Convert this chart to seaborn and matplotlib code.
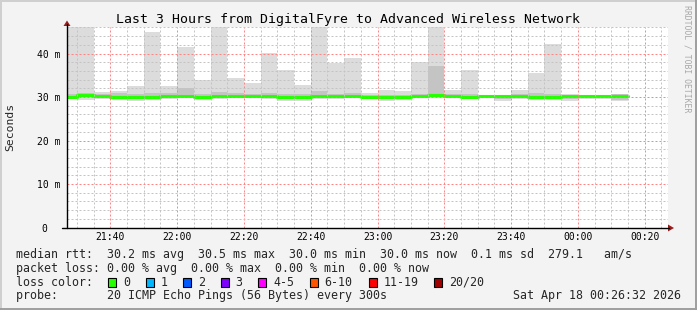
import matplotlib
matplotlib.use("Agg")
import matplotlib.pyplot as plt
import seaborn as sns
import pandas as pd
from matplotlib.ticker import MultipleLocator, FixedLocator
from matplotlib.patches import Rectangle, Polygon
from matplotlib.lines import Line2D

# ---------------- data ----------------
slot_start = ["21:25", "21:30", "21:35", "21:40", "21:45", "21:50", "21:55",
              "22:00", "22:05", "22:10", "22:15", "22:20", "22:25", "22:30",
              "22:35", "22:40", "22:45", "22:50", "22:55", "23:00", "23:05",
              "23:10", "23:15", "23:20", "23:25", "23:30", "23:35", "23:40",
              "23:45", "23:50", "23:55", "00:00", "00:05", "00:10"]
rtt_max = [48.0, 48.0, 31.2, 31.4, 32.5, 45.0, 32.5, 41.5, 33.9, 48.0,
           34.4, 33.2, 40.2, 36.2, 32.7, 48.0, 37.9, 38.9, 30.9, 31.6,
           31.3, 38.1, 48.0, 31.6, 36.1, 30.5, 30.4, 31.6, 35.6, 42.1,
           30.8, 30.5, 30.5, 30.8]
rtt_hi2 = [30.8, 31.0, 30.6, 31.0, 30.7, 31.0, 30.9, 32.0, 30.7, 31.2,
           30.9, 30.8, 30.9, 30.7, 30.6, 31.3, 30.8, 30.9, 30.4, 30.5,
           30.5, 30.8, 37.1, 30.7, 30.6, 30.4, 30.3, 30.8, 30.9, 30.8,
           30.5, 30.4, 30.5, 30.6]
rtt_median = [30.1, 30.5, 30.2, 30.0, 30.1, 30.1, 30.2, 30.3, 30.0, 30.2,
              30.2, 30.2, 30.2, 30.1, 30.1, 30.3, 30.2, 30.2, 30.1, 30.0,
              30.1, 30.2, 30.5, 30.2, 30.1, 30.2, 30.2, 30.2, 30.1, 30.0,
              30.2, 30.2, 30.3, 30.2]
rtt_lo2 = [29.8, 29.9, 29.9, 29.6, 29.5, 29.7, 29.8, 30.0, 29.6, 29.8,
           29.9, 29.9, 29.8, 29.6, 29.6, 29.8, 29.9, 29.9, 29.8, 29.5,
           29.7, 29.9, 29.9, 29.9, 29.8, 29.9, 29.6, 29.8, 29.6, 29.6,
           29.5, 29.8, 29.8, 29.4]
rtt_min = [29.65, 29.4, 29.65, 29.4, 29.05, 29.4, 29.65, 29.9, 29.4, 29.65,
           29.8, 29.8, 29.6, 29.0, 29.1, 29.6, 29.65, 29.75, 29.5, 29.05,
           29.4, 29.75, 29.8, 29.8, 29.65, 29.8, 29.1, 29.65, 29.3, 29.4,
           29.1, 29.65, 29.5, 29.1]
slot_minutes = 5
x_tick_labels = ["21:40", "22:00", "22:20", "22:40", "23:00",
                 "23:20", "23:40", "00:00", "00:20"]
y_ticks = [0, 10, 20, 30, 40]
y_tick_labels = ["0  ", "10 m", "20 m", "30 m", "40 m"]
loss_labels = ["0", "1", "2", "3", "4-5", "6-10", "11-19", "20/20"]
loss_colors = ["#26ff00", "#00b8ff", "#0059ff", "#7e00ff", "#ff00ff",
               "#ff5500", "#ff0000", "#a10000"]
title = "Last 3 Hours from DigitalFyre to Advanced Wireless Network"
line_rtt = "median rtt:  30.2 ms avg  30.5 ms max  30.0 ms min  30.0 ms now  0.1 ms sd  279.1   am/s"
line_loss = "packet loss: 0.00 % avg  0.00 % max  0.00 % min  0.00 % now"
line_probe = "probe:       20 ICMP Echo Pings (56 Bytes) every 300s"
stamp = "Sat Apr 18 00:26:32 2026"


def to_min(s):
    h, m = map(int, s.split(":"))
    if h < 12:
        h += 24
    return (h - 21) * 60 + m


starts = [to_min(s) for s in slot_start]
tick_pos = [to_min(s) for s in x_tick_labels]

# ---------------- figure ----------------
sns.set_theme(style="white")
MONO = ["DejaVu Sans Mono"]
plt.rcParams["font.family"] = MONO

W, H = 697, 310
fig = plt.figure(figsize=(W / 100, H / 100), dpi=100, facecolor="#f3f3f3")


def fx(x):
    return x / W


def fy(y):
    return 1 - y / H


ax_l, ax_r, ax_t, ax_b = 67, 668, 27, 227.5
ax = fig.add_axes([fx(ax_l), fy(ax_b), (ax_r - ax_l) / W, (ax_b - ax_t) / H])
ax.set_facecolor("white")

# smoke bands
ax.bar(starts, [a - b for a, b in zip(rtt_max, rtt_min)], bottom=rtt_min,
       width=slot_minutes, align="edge", color="#dcdcdc", linewidth=0, zorder=1)
ax.bar(starts, [a - b for a, b in zip(rtt_hi2, rtt_lo2)], bottom=rtt_lo2,
       width=slot_minutes, align="edge", color="#c4c4c4", linewidth=0, zorder=1.1)

# median line (steps)
df = pd.DataFrame({"t": starts + [starts[-1] + slot_minutes],
                   "rtt": rtt_median + [rtt_median[-1]]})
sns.lineplot(data=df, x="t", y="rtt", drawstyle="steps-post", color="#26ff00",
             linewidth=2.2, ax=ax, zorder=2, legend=False)

ax.set_xlim(27, 207)
ax.set_ylim(0, 46.1)
ax.set_xlabel("")
ax.set_ylabel("")

ax.xaxis.set_major_locator(FixedLocator(tick_pos))
ax.xaxis.set_minor_locator(MultipleLocator(5))
ax.yaxis.set_major_locator(FixedLocator(y_ticks))
ax.yaxis.set_minor_locator(MultipleLocator(2))
ax.set_xticklabels(x_tick_labels)
ax.set_yticklabels(y_tick_labels)
ax.tick_params(axis="both", which="both", length=0, labelsize=7, colors="black")
ax.tick_params(axis="x", pad=3)
ax.tick_params(axis="y", pad=5)
for lab in ax.get_xticklabels() + ax.get_yticklabels():
    lab.set_family(MONO)

ax.set_axisbelow(False)
ax.grid(which="minor", color="#c4c4c4", linestyle=(0, (2, 2)), linewidth=0.72)
ax.grid(which="major", color="#ff8484", linestyle=(0, (2, 2)), linewidth=0.72)
for axis in (ax.xaxis, ax.yaxis):
    for t in axis.get_major_ticks() + axis.get_minor_ticks():
        t.gridline.set_snap(True)
        t.gridline.set_dash_capstyle("butt")

for s in ax.spines.values():
    s.set_visible(False)

# axes lines and arrows
fig.add_artist(Line2D([fx(ax_l), fx(ax_l)], [fy(228), fy(24)], color="black", lw=1.0))
fig.add_artist(Line2D([fx(62), fx(669)], [fy(228), fy(228)], color="black", lw=1.0))
fig.add_artist(Polygon([(fx(63.5), fy(26)), (fx(70.5), fy(26)), (fx(67), fy(20.5))],
                       closed=True, color="#9c1c1c", lw=0))
fig.add_artist(Polygon([(fx(668), fy(224.5)), (fx(668), fy(231.5)), (fx(674), fy(228))],
                       closed=True, color="#9c1c1c", lw=0))

# texts
fig.text(fx(347.5), fy(19), title, ha="center", va="center", fontsize=9.5,
         family=MONO, color="black")
fig.text(fx(10), fy(127), "Seconds", rotation=90, ha="center", va="center",
         fontsize=8.2, family=MONO)
fig.text(fx(687), fy(59), "RRDTOOL / TOBI OETIKER", rotation=270, ha="center",
         va="center", fontsize=5.9, family=MONO, color="#a8a8a8")

FS = 8.4
CW = 7.02
fig.text(fx(16), fy(254.5), line_rtt, ha="left", va="center", fontsize=FS, family=MONO)
fig.text(fx(16), fy(268.3), line_loss, ha="left", va="center", fontsize=FS, family=MONO)
fig.text(fx(16), fy(282.3), "loss color:", ha="left", va="center", fontsize=FS, family=MONO)
fig.text(fx(16), fy(296), line_probe, ha="left", va="center", fontsize=FS, family=MONO)
fig.text(fx(681), fy(296), stamp, ha="right", va="center", fontsize=FS, family=MONO)

xs = 108.4
for lab, col in zip(loss_labels, loss_colors):
    fig.add_artist(Rectangle((fx(xs), fy(286.5)), 8 / W, 8.5 / H, facecolor=col,
                             edgecolor="black", lw=0.8))
    fig.text(fx(xs + 14.7), fy(282.3), lab, ha="left", va="center", fontsize=FS, family=MONO)
    xs = xs + 14.7 + len(lab) * CW + 15.8

# frame
fig.add_artist(Line2D([0, 1], [fy(0.5), fy(0.5)], color="#cfcfcf", lw=1.4))
fig.add_artist(Line2D([fx(0.5), fx(0.5)], [0, 1], color="#cfcfcf", lw=1.4))
fig.add_artist(Line2D([0, 1], [fy(309.3), fy(309.3)], color="#9e9e9e", lw=1.4))
fig.add_artist(Line2D([fx(696.3), fx(696.3)], [0, 1], color="#9e9e9e", lw=1.4))

fig.savefig("out.png", dpi=100, facecolor=fig.get_facecolor())
